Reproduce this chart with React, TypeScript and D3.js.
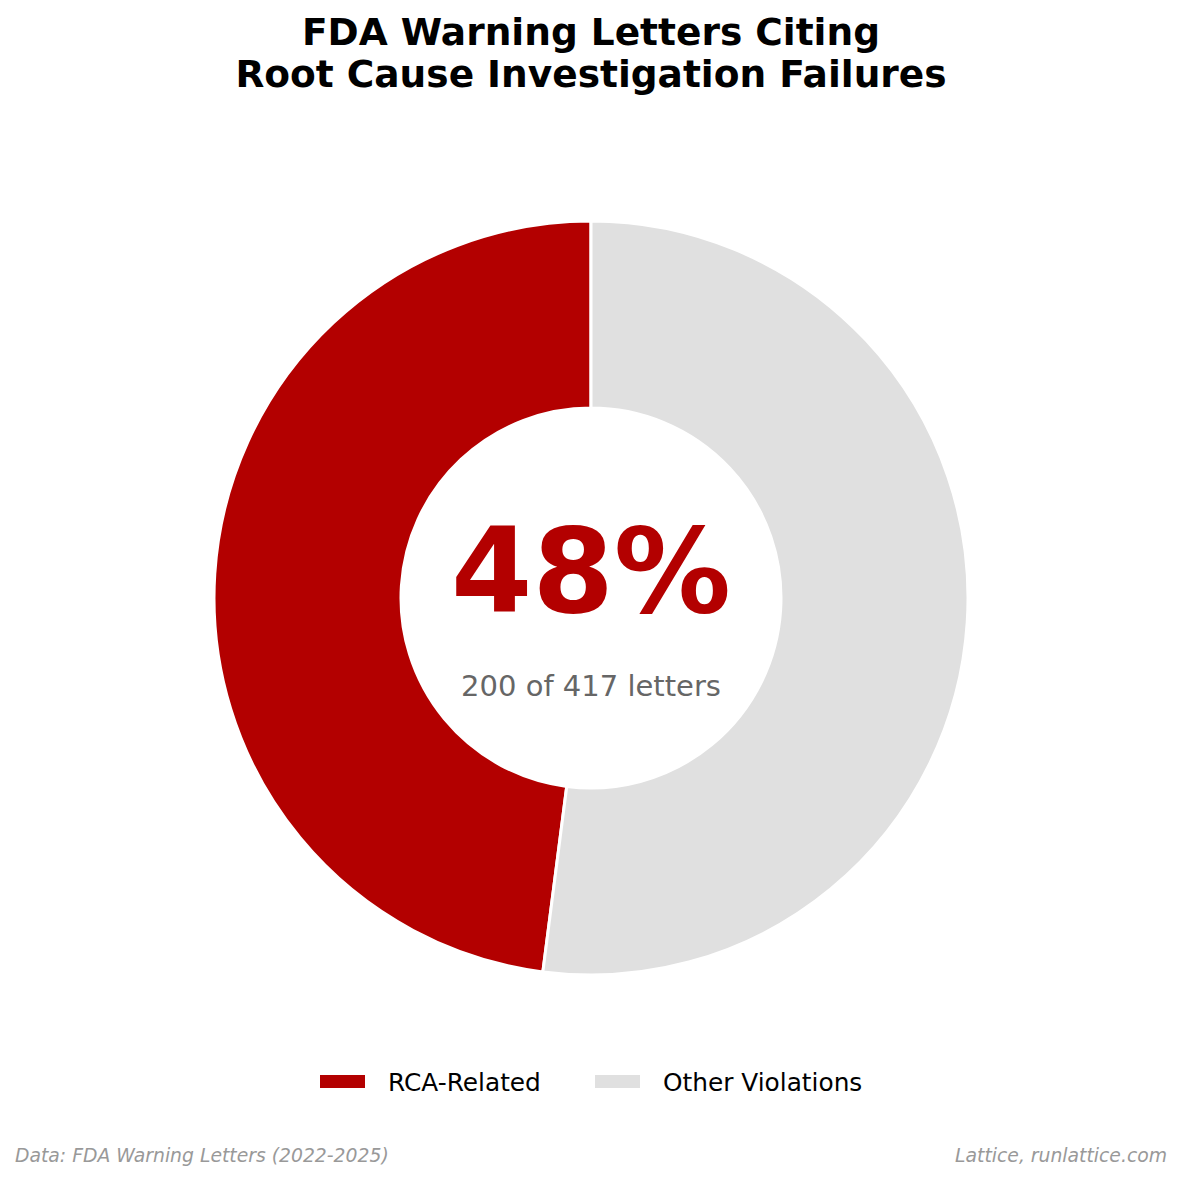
import { useEffect, useRef } from 'react'
import * as d3 from 'd3'

const categories = ['RCA-Related', 'Other Violations']
const counts = [200, 217]
const colors = ['#b30000', '#e0e0e0']
const titleLines = ['FDA Warning Letters Citing', 'Root Cause Investigation Failures']
const centerLabel = '48%'
const centerSub = '200 of 417 letters'
const sourceNote = 'Data: FDA Warning Letters (2022-2025)'
const creditNote = 'Lattice, runlattice.com'

const W = 1182
const H = 1180
const FONT = "'DejaVu Sans', sans-serif"

export default function App() {
  const ref = useRef<SVGSVGElement | null>(null)

  useEffect(() => {
    if (!ref.current) return
    const svg = d3.select(ref.current)
    svg.selectAll('*').remove()

    const cx = 591
    const cy = 598
    const outerR = 377
    const innerR = 190

    // red slice runs counterclockwise from 12 o'clock
    const total = d3.sum(counts)
    const angle = d3.scaleLinear().domain([0, total]).range([0, 2 * Math.PI])
    const pie = d3
      .pie<number>()
      .sort(null)
      .startAngle(-angle(counts[0]))
      .endAngle(2 * Math.PI - angle(counts[0]))
    const arc = d3.arc<d3.PieArcDatum<number>>().innerRadius(innerR).outerRadius(outerR)

    const g = svg.append('g').attr('transform', `translate(${cx},${cy})`)
    g.selectAll('path')
      .data(pie(counts))
      .enter()
      .append('path')
      .attr('d', arc)
      .attr('fill', (_, i) => colors[i])
      .attr('stroke', '#fff')
      .attr('stroke-width', 3)

    g.append('text')
      .attr('x', 0)
      .attr('y', 14)
      .attr('text-anchor', 'middle')
      .attr('font-family', FONT)
      .attr('font-weight', 'bold')
      .attr('font-size', 117)
      .attr('fill', colors[0])
      .text(centerLabel)

    g.append('text')
      .attr('x', 0)
      .attr('y', 98)
      .attr('text-anchor', 'middle')
      .attr('font-family', FONT)
      .attr('font-size', 29)
      .attr('fill', '#666666')
      .text(centerSub)

    svg.selectAll('.title')
      .data(titleLines)
      .enter()
      .append('text')
      .attr('class', 'title')
      .attr('x', W / 2)
      .attr('y', (_, i) => 45 + i * 42)
      .attr('text-anchor', 'middle')
      .attr('font-family', FONT)
      .attr('font-weight', 'bold')
      .attr('font-size', 37.5)
      .attr('fill', '#000')
      .text((d) => d)

    // legend
    const legendX = [320, 595]
    const lg = svg
      .selectAll('.legend')
      .data(categories)
      .enter()
      .append('g')
      .attr('class', 'legend')
      .attr('transform', (_, i) => `translate(${legendX[i]},1075)`)
    lg.append('rect').attr('width', 45).attr('height', 13).attr('fill', (_, i) => colors[i])
    lg.append('text')
      .attr('x', 68)
      .attr('y', 16)
      .attr('font-family', FONT)
      .attr('font-size', 24.8)
      .attr('fill', '#000')
      .text((d) => d)

    svg.append('text')
      .attr('x', 15)
      .attr('y', 1162)
      .attr('font-family', FONT)
      .attr('font-style', 'italic')
      .attr('font-size', 18.8)
      .attr('fill', '#999999')
      .text(sourceNote)

    svg.append('text')
      .attr('x', W - 15)
      .attr('y', 1162)
      .attr('text-anchor', 'end')
      .attr('font-family', FONT)
      .attr('font-style', 'italic')
      .attr('font-size', 18.8)
      .attr('fill', '#999999')
      .text(creditNote)
  }, [])

  return (
    <svg
      ref={ref}
      width={W}
      height={H}
      viewBox={`0 0 ${W} ${H}`}
      style={{ position: 'absolute', left: 0, top: 0, background: '#fff' }}
      role="img"
      aria-label="FDA warning letters donut chart"
    />
  )
}
